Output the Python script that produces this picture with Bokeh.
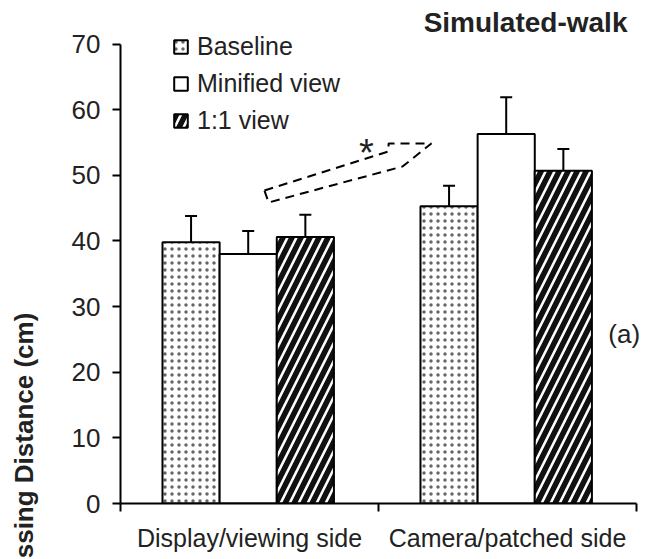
from bokeh.plotting import figure
from bokeh.models import (Range1d, FixedTicker, ColumnDataSource, Whisker, TeeHead,
                          Label, Legend, LegendItem, LinearAxis)
from bokeh.embed import file_html
from bokeh.resources import INLINE

# ---- data ----
sides = ["Display/viewing side", "Camera/patched side"]
conditions = ["Baseline", "Minified view", "1:1 view"]
baseline = [39.8, 45.3]
minified = [38.0, 56.3]
one_to_one = [40.6, 50.7]
baseline_err = [4.0, 3.1]
minified_err = [3.5, 5.6]
one_to_one_err = [3.4, 3.3]
y_ticks = [0, 10, 20, 30, 40, 50, 60, 70]
title_text = "Simulated-walk"
panel_tag = "(a)"
sig_mark = "*"
y_label = "Crossing Distance (cm)"

# significance arrow outline (annotation, in axis units)
arrow_x = [0.558, 1.039, 1.039, 1.205, 1.093, 0.574]
arrow_y = [47.68, 53.63, 54.84, 54.84, 51.34, 45.86]

FONT = "Liberation Sans"
W, H = 654, 559

p = figure(width=W, height=H, output_backend="svg", toolbar_location=None,
           x_range=Range1d(0, 2.0698), y_range=Range1d(0, 76.63),
           min_border_left=120, min_border_right=0, min_border_top=0,
           min_border_bottom=56)
p.outline_line_color = None
p.xgrid.visible = False
p.ygrid.visible = False
p.background_fill_color = "white"

bar_w = 0.2215
offsets = [-0.2265, -0.005, 0.2165]
series = [baseline, minified, one_to_one]
errs = [baseline_err, minified_err, one_to_one_err]
styles = [
    dict(fill_color="white", hatch_pattern="dot", hatch_color="#666666",
         hatch_scale=7, hatch_weight=1.4),
    dict(fill_color="white"),
    dict(fill_color="white", hatch_pattern="right_diagonal_line", hatch_color="#111111",
         hatch_scale=18, hatch_weight=5.5),
]

items = []
for k in range(3):
    xs = [g + 0.5 + offsets[k] for g in range(len(sides))]
    src = ColumnDataSource(dict(x=xs, top=series[k],
                                upper=[v + e for v, e in zip(series[k], errs[k])]))
    r = p.vbar(x="x", top="top", bottom=0, width=bar_w, source=src,
               line_color="black", line_width=2, **styles[k])
    items.append(LegendItem(label=conditions[k], renderers=[r]))
    w = Whisker(source=src, base="x", upper="upper", lower="top",
                line_color="black", line_width=2,
                upper_head=TeeHead(size=12, line_width=2, line_color="black"),
                lower_head=None)
    p.add_layout(w)

# significance arrow
p.patch(arrow_x + [arrow_x[0]], arrow_y + [arrow_y[0]], fill_color=None,
        line_color="black", line_width=2, line_dash="9 6")

# axes
xa = p.xaxis[0]
xa.bounds = (0, 2)
xa.ticker = FixedTicker(ticks=[0.5, 1.5], minor_ticks=[0, 1, 2])
xa.major_label_overrides = {0.5: sides[0], 1.5: sides[1]}
xa.major_tick_out = 0
xa.major_tick_in = 0
xa.minor_tick_out = 8
xa.minor_tick_in = 0
xa.minor_tick_line_width = 2
xa.minor_tick_line_color = "black"
xa.axis_line_width = 2
xa.axis_line_color = "black"
xa.major_label_text_font = FONT
xa.major_label_text_font_size = "25px"
xa.major_label_text_color = "#222222"
xa.major_label_standoff = 12

ya = p.yaxis[0]
ya.ticker = FixedTicker(ticks=y_ticks)
ya.bounds = (0, 70)
ya.major_tick_out = 8
ya.major_tick_in = 0
ya.minor_tick_out = 0
ya.minor_tick_in = 0
ya.major_tick_line_width = 2
ya.axis_line_width = 2
ya.axis_line_color = "black"
ya.major_label_text_font = FONT
ya.major_label_text_font_size = "26px"
ya.major_label_text_color = "#222222"
ya.major_label_standoff = 12

# outer axis carrying only the (partly cut off) y title; trailing no-break
# spaces push the centred title down towards the lower edge as in the original
ta = LinearAxis(ticker=FixedTicker(ticks=[]),
                axis_line_color=None, major_tick_line_color=None,
                minor_tick_line_color=None, major_label_text_font_size="0px",
                axis_label=y_label + "\u00a0" * 57, axis_label_text_font=FONT,
                axis_label_text_font_size="26px", axis_label_text_font_style="bold",
                axis_label_text_color="#222222", axis_label_standoff=30)
p.add_layout(ta, "left")

# legend
legend = Legend(items=items, location=(52, 368), orientation="vertical",
                glyph_width=17, glyph_height=17, label_standoff=8,
                label_text_font=FONT, label_text_font_size="25px",
                label_text_color="#222222", spacing=8, padding=0, margin=0,
                border_line_color=None, background_fill_alpha=0)
p.add_layout(legend, "center")

# texts
p.add_layout(Label(x=1.965, y=73.27, text=title_text, text_align="right",
                   text_baseline="alphabetic", text_font=FONT, text_font_size="28px",
                   text_font_style="bold", text_color="#222222"))
p.add_layout(Label(x=1.891, y=25.8, text=panel_tag, text_align="left",
                   text_baseline="alphabetic", text_font=FONT, text_font_size="26px",
                   text_color="#222222"))
p.add_layout(Label(x=0.953, y=53.4, text=sig_mark, text_align="center",
                   text_baseline="alphabetic", text_font=FONT, text_font_size="38px",
                   text_color="#222222"))

open("out.html", "w").write(file_html(p, INLINE))
